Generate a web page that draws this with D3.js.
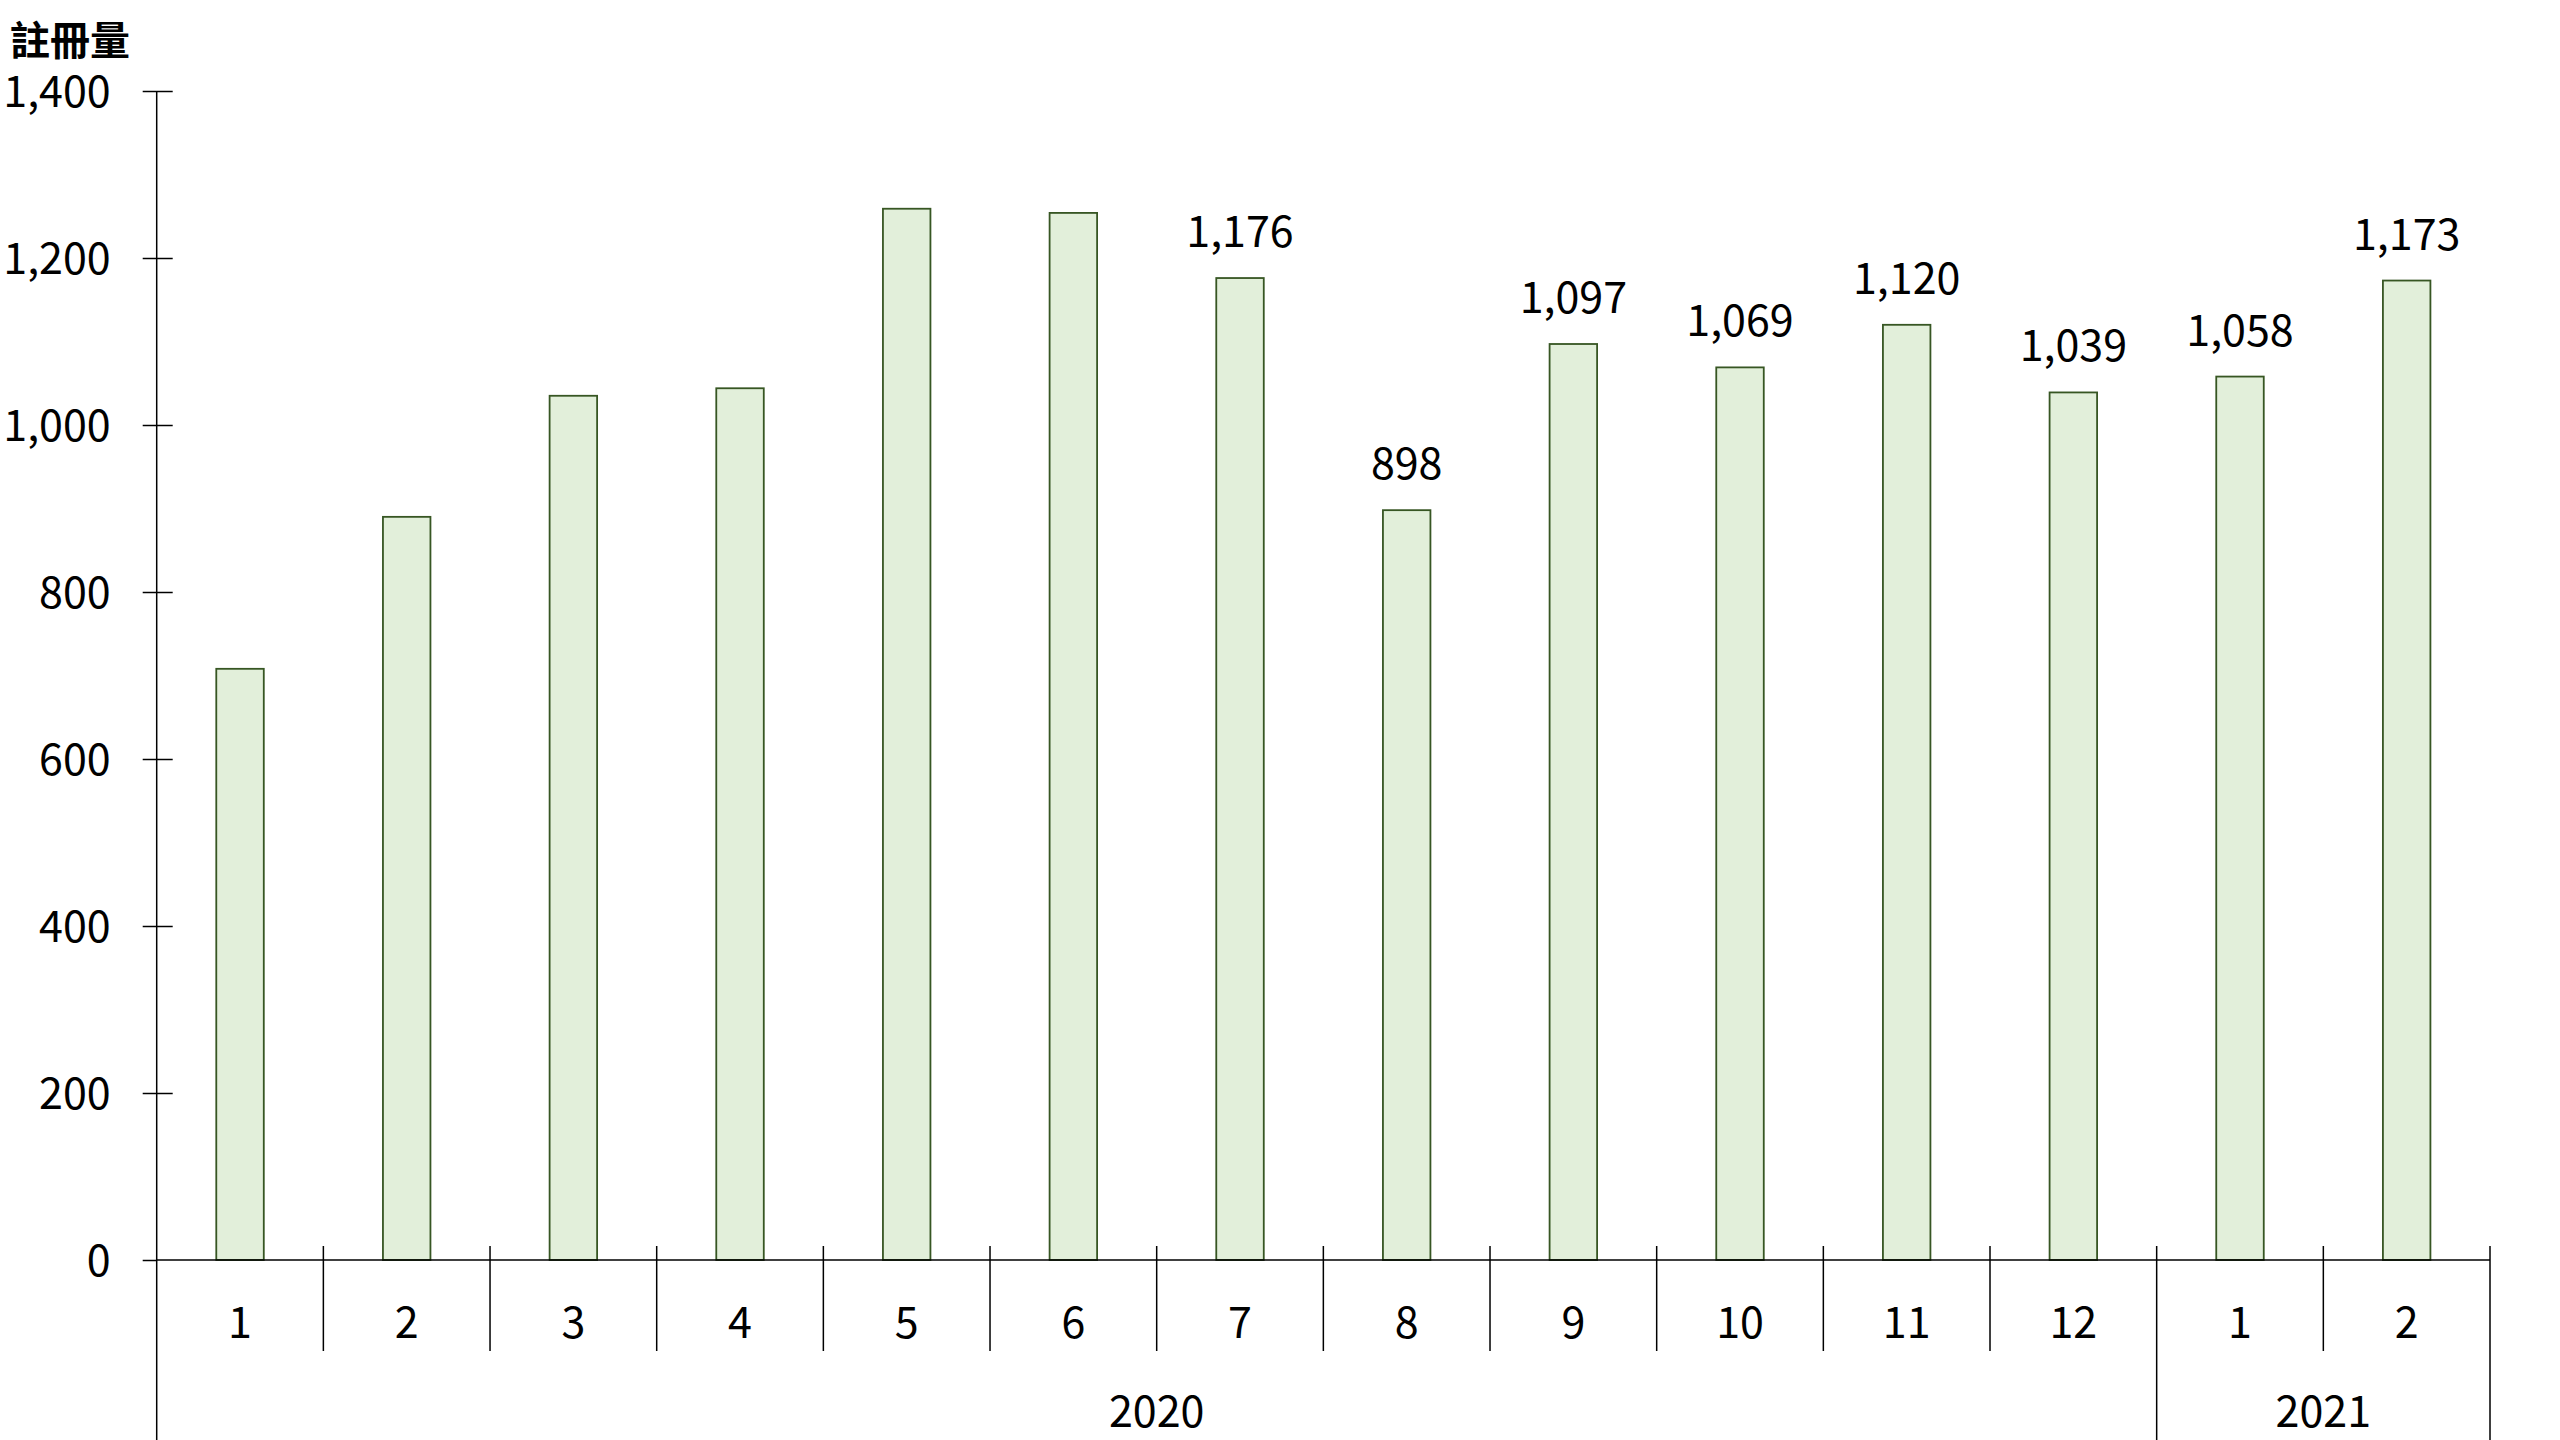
<!DOCTYPE html>
<html>
<head>
<meta charset="utf-8">
<script src="https://cdn.jsdelivr.net/npm/d3@7"></script>
<style>
  body { margin: 0; background: #fff; }
  svg text { font-family: "Noto Sans CJK TC", "Noto Sans", sans-serif; fill: #000; }
</style>
</head>
<body>
<svg id="chart" width="2560" height="1440"></svg>
<script>
// month labels along the x axis (2020-01 .. 2021-02)
const months = ["1", "2", "3", "4", "5", "6", "7", "8", "9", "10", "11", "12", "1", "2"];
// registrations per month
const values = [708, 890, 1035, 1044, 1259, 1254, 1176, 898, 1097, 1069, 1120, 1039, 1058, 1173];
// only the later bars carry a value label in the original
const showLabel = [false, false, false, false, false, false, true, true, true, true, true, true, true, true];
const years = ["2020", "2021"];
const yearMonthCounts = [12, 2];
const yTicks = [0, 200, 400, 600, 800, 1000, 1200, 1400];
const yTitle = "註冊量";

const svg = d3.select("#chart");
const plotLeft = 156.7, plotRight = 2490, plotTop = 91, plotBase = 1260;
const fontSize = "43px";

const x = d3.scaleBand()
  .domain(d3.range(months.length))
  .range([plotLeft, plotRight])
  .padding(0);

const y = d3.scaleLinear()
  .domain([0, 1400])
  .range([plotBase, plotTop]);

const barW = x.bandwidth() * 0.285;
const fmt = d3.format(",");

// bars
svg.append("g")
  .selectAll("rect")
  .data(values)
  .join("rect")
  .attr("x", (d, i) => x(i) + (x.bandwidth() - barW) / 2)
  .attr("y", d => y(d))
  .attr("width", barW)
  .attr("height", d => y(0) - y(d))
  .attr("fill", "#e2efda")
  .attr("stroke", "#375623")
  .attr("stroke-width", 1.8);

// value labels
svg.append("g")
  .selectAll("text")
  .data(values.map((v, i) => ({ v, i })).filter(d => showLabel[d.i]))
  .join("text")
  .attr("x", d => x(d.i) + x.bandwidth() / 2)
  .attr("y", d => y(d.v) - 50)
  .attr("text-anchor", "middle")
  .attr("dominant-baseline", "central")
  .style("font-size", fontSize)
  .text(d => fmt(d.v));

// y axis
const yAxis = svg.append("g")
  .attr("transform", `translate(${plotLeft},0)`)
  .call(d3.axisLeft(y).tickValues(yTicks).tickSize(14).tickPadding(32).tickFormat(fmt));
yAxis.select(".domain").remove();
yAxis.selectAll(".tick line").attr("stroke", "#000").attr("stroke-width", 1.5);
yAxis.selectAll(".tick text")
  .style("font-size", fontSize)
  .attr("fill", "#000")
  .attr("dy", "-4px")
  .attr("dominant-baseline", "central");
// ticks also poke out to the right of the axis
yAxis.selectAll(".tick").filter(d => d > 0)
  .append("line")
  .attr("x1", 0).attr("x2", 16)
  .attr("stroke", "#000").attr("stroke-width", 1.5);

svg.append("line")
  .attr("x1", plotLeft).attr("x2", plotLeft)
  .attr("y1", plotTop).attr("y2", 1445)
  .attr("stroke", "#000").attr("stroke-width", 1.5);

// x axis baseline
svg.append("line")
  .attr("x1", plotLeft).attr("x2", plotRight)
  .attr("y1", plotBase).attr("y2", plotBase)
  .attr("stroke", "#000").attr("stroke-width", 1.5);

// separators: short between months, long at year boundaries
const yearEnds = d3.cumsum(yearMonthCounts);
const seps = d3.range(1, months.length + 1);
svg.append("g")
  .selectAll("line")
  .data(seps)
  .join("line")
  .attr("x1", i => i < months.length ? x(i) : plotRight)
  .attr("x2", i => i < months.length ? x(i) : plotRight)
  .attr("y1", plotBase - 14)
  .attr("y2", i => yearEnds.includes(i) ? 1445 : 1351)
  .attr("stroke", "#000")
  .attr("stroke-width", 1.5);

// month labels
svg.append("g")
  .selectAll("text")
  .data(months)
  .join("text")
  .attr("x", (d, i) => x(i) + x.bandwidth() / 2)
  .attr("y", 1319)
  .attr("text-anchor", "middle")
  .attr("dominant-baseline", "central")
  .style("font-size", fontSize)
  .text(d => d);

// year labels
const yearStarts = [0, ...yearEnds.slice(0, -1)];
svg.append("g")
  .selectAll("text")
  .data(years)
  .join("text")
  .attr("x", (d, k) => {
    const a = x(yearStarts[k]);
    const b = yearEnds[k] < months.length ? x(yearEnds[k]) : plotRight;
    return (a + b) / 2;
  })
  .attr("y", 1408)
  .attr("text-anchor", "middle")
  .attr("dominant-baseline", "central")
  .style("font-size", fontSize)
  .text(d => d);

// y title
svg.append("text")
  .attr("x", 10)
  .attr("y", 38)
  .attr("dominant-baseline", "central")
  .style("font-size", "40px")
  .style("font-weight", "bold")
  .text(yTitle);
</script>
</body>
</html>
